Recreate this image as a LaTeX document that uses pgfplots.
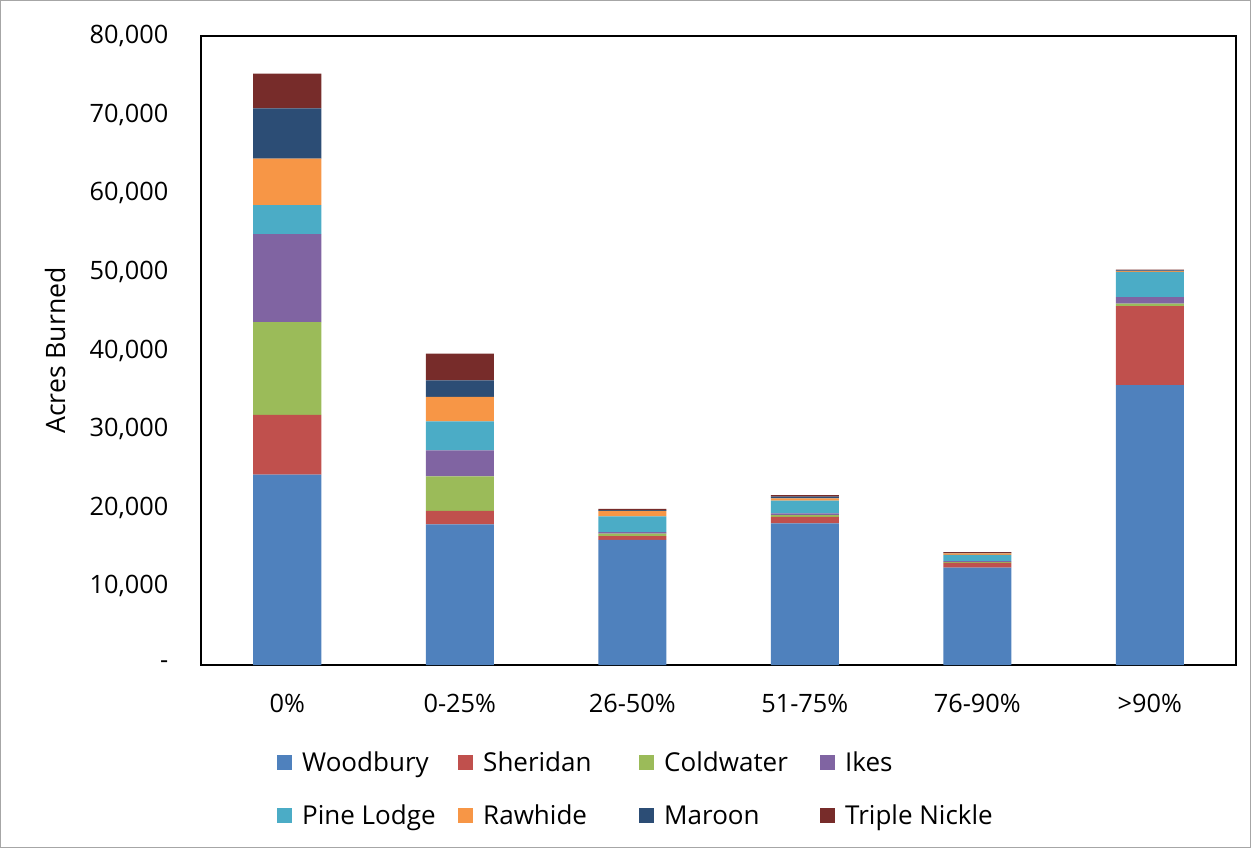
\documentclass[border=0pt]{standalone}
\usepackage{pgfplots}
\pgfplotsset{compat=1.18}
\usepackage{fontspec}
\setmainfont{Open Sans}
\definecolor{cWood}{HTML}{4F81BD}
\definecolor{cSher}{HTML}{C0504D}
\definecolor{cCold}{HTML}{9BBB59}
\definecolor{cIkes}{HTML}{8064A2}
\definecolor{cPine}{HTML}{4BACC6}
\definecolor{cRaw}{HTML}{F79646}
\definecolor{cMar}{HTML}{2C4D75}
\definecolor{cTrip}{HTML}{772C2A}
\newcommand{\lab}[1]{\makebox[117pt][l]{\strut #1}}
\begin{document}
\begin{tikzpicture}
\fontsize{19}{23}\selectfont
\useasboundingbox (-150.75pt,-137.25pt) rectangle (787.5pt,498.75pt);
\begin{axis}[
  at={(0,0)}, anchor=south west,
  scale only axis, width=776.25pt, height=471.75pt,
  ybar stacked, bar width=51pt,
  xmin=-0.5, xmax=5.5, ymin=0, ymax=80000,
  scaled y ticks=false,
  xtick={0,1,2,3,4,5},
  xticklabels={0\%,0-25\%,26-50\%,51-75\%,76-90\%,>90\%},
  ytick={0,10000,20000,30000,40000,50000,60000,70000,80000},
  yticklabels={{-\hspace{9.75pt}},{10,000},{20,000},{30,000},{40,000},{50,000},{60,000},{70,000},{80,000}},
  major tick length=0pt,
  axis line style={black, line width=1.5pt},
  tick label style={font=\fontsize{19}{23}\selectfont},
  xticklabel style={yshift=-15pt},
  yticklabel style={xshift=-18pt},
  ylabel={Acres Burned},
  ylabel style={font=\fontsize{20}{24}\selectfont, at={(axis description cs:-0.1314,0.5)}, anchor=base},
  legend columns=4,
  legend style={draw=none, fill=none, inner sep=0pt, at={(0.0734,-0.135)}, anchor=north west,
    font=\fontsize{19.5}{23}\selectfont, nodes={inner sep=0pt},
    /tikz/every odd column/.append style={column sep=7.5pt},
    /tikz/row sep=20.5pt},
  legend image code/.code={\fill[#1] (0pt,-5.625pt) rectangle (11.25pt,5.625pt);},
  every axis plot/.append style={draw=none},
]
\addplot[fill=cWood] coordinates {(0,24200) (1,17900) (2,15900) (3,18000) (4,12400) (5,35600)};
\addplot[fill=cSher] coordinates {(0,7600) (1,1700) (2,500) (3,850) (4,600) (5,10050)};
\addplot[fill=cCold] coordinates {(0,11800) (1,4400) (2,300) (3,200) (4,100) (5,300)};
\addplot[fill=cIkes] coordinates {(0,11200) (1,3300) (2,200) (3,250) (4,100) (5,850)};
\addplot[fill=cPine] coordinates {(0,3700) (1,3700) (2,2000) (3,1600) (4,800) (5,3200)};
\addplot[fill=cRaw] coordinates {(0,5900) (1,3100) (2,700) (3,300) (4,200) (5,100)};
\addplot[fill=cMar] coordinates {(0,6400) (1,2100) (2,100) (3,200) (4,50) (5,100)};
\addplot[fill=cTrip] coordinates {(0,4400) (1,3400) (2,150) (3,200) (4,100) (5,100)};
\legend{\lab{Woodbury},\lab{Sheridan},\lab{Coldwater},\lab{Ikes},\lab{Pine Lodge},\lab{Rawhide},\lab{Maroon},\lab{Triple Nickle}}
\end{axis}
\draw[gray!70, line width=0.75pt] (-150.4pt,-136.9pt) rectangle (787.1pt,498.4pt);
\end{tikzpicture}
\end{document}
